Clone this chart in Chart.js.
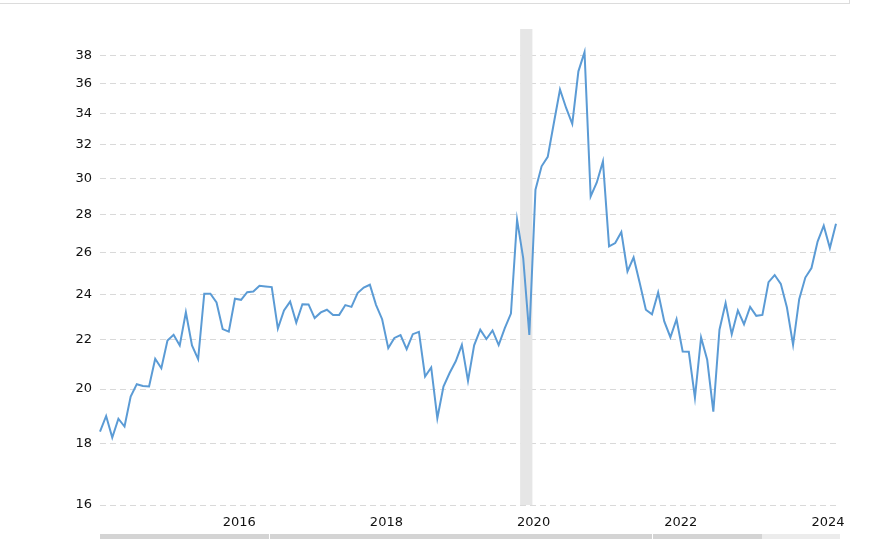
<!DOCTYPE html>
<html>
<head>
<meta charset="utf-8">
<script src="https://cdn.jsdelivr.net/npm/chart.js@4.4.1/dist/chart.umd.min.js"></script>
<style>
  html, body { margin: 0; padding: 0; background: #fff; }
  #wrap { position: relative; width: 895px; height: 539px; overflow: hidden; }
  #frame { position: absolute; left: -2px; top: -12px; width: 850px; height: 14px; border: 1px solid #dcdcdc; }
  #bar1 { position: absolute; left: 100px; top: 534px; width: 662px; height: 5px; background: #d4d4d4; }
  #bar2 { position: absolute; left: 762px; top: 534px; width: 78px; height: 5px; background: #ececec; }
  .sep { position: absolute; top: 534px; width: 1px; height: 5px; background: #fff; }
  #c { position: absolute; left: 0; top: 0; }
</style>
</head>
<body>
<div id="wrap">
  <div id="frame"></div>
  <div id="bar1"></div>
  <div id="bar2"></div>
  <div class="sep" style="left:269px"></div>
  <div class="sep" style="left:652px"></div>
  <canvas id="c" width="895" height="539"></canvas>
</div>
<script>
// Monthly dates (YYYY-MM)
const months = [
  '2014-05','2014-06','2014-07','2014-08','2014-09','2014-10','2014-11','2014-12',
  '2015-01','2015-02','2015-03','2015-04','2015-05','2015-06','2015-07','2015-08','2015-09','2015-10','2015-11','2015-12',
  '2016-01','2016-02','2016-03','2016-04','2016-05','2016-06','2016-07','2016-08','2016-09','2016-10','2016-11','2016-12',
  '2017-01','2017-02','2017-03','2017-04','2017-05','2017-06','2017-07','2017-08','2017-09','2017-10','2017-11','2017-12',
  '2018-01','2018-02','2018-03','2018-04','2018-05','2018-06','2018-07','2018-08','2018-09','2018-10','2018-11','2018-12',
  '2019-01','2019-02','2019-03','2019-04','2019-05','2019-06','2019-07','2019-08','2019-09','2019-10','2019-11','2019-12',
  '2020-01','2020-02','2020-03','2020-04','2020-05','2020-06','2020-07','2020-08','2020-09','2020-10','2020-11','2020-12',
  '2021-01','2021-02','2021-03','2021-04','2021-05','2021-06','2021-07','2021-08','2021-09','2021-10','2021-11','2021-12',
  '2022-01','2022-02','2022-03','2022-04','2022-05','2022-06','2022-07','2022-08','2022-09','2022-10','2022-11','2022-12',
  '2023-01','2023-02','2023-03','2023-04','2023-05','2023-06','2023-07','2023-08','2023-09','2023-10','2023-11','2023-12',
  '2024-01','2024-02','2024-03','2024-04','2024-05'
];

// Series values
const peRatio = [
  18.43,18.99,18.22,18.89,18.61,19.71,20.19,20.12,
  20.10,21.20,20.82,21.96,22.20,21.75,23.19,21.75,21.19,24.03,24.03,23.63,
  22.45,22.34,23.80,23.75,24.10,24.13,24.40,24.37,24.34,22.47,23.27,23.67,
  22.73,23.55,23.54,22.93,23.18,23.30,23.07,23.07,23.51,23.43,24.06,24.32,
  24.45,23.52,22.88,21.64,22.07,22.19,21.60,22.23,22.33,20.49,20.85,18.91,
  20.10,20.63,21.10,21.78,20.32,21.76,22.42,22.02,22.39,21.77,22.49,23.13,
  27.71,25.74,22.20,29.36,30.71,31.27,33.38,35.60,34.36,33.32,36.87,38.25,
  28.98,29.77,31.00,26.32,26.49,27.06,25.08,25.77,24.53,23.30,23.10,24.09,
  22.78,22.10,22.88,21.50,21.49,19.67,22.09,21.16,19.15,22.42,23.60,22.23,
  23.27,22.66,23.43,23.03,23.07,24.57,24.91,24.49,23.40,21.78,23.78,24.79,
  25.25,26.57,27.39,26.24,27.50
];

// Tick labels
const yTicks = [16,18,20,22,24,26,28,30,32,34,36,38];
const xTickYears = ['2016','2018','2020','2022','2024'];

// Recession period (shaded)
const recession = ['2020-02','2020-04'];

const recessionPlugin = {
  id: 'recession',
  beforeDatasetsDraw(chart) {
    const {ctx, scales} = chart;
    const x = scales.x, y = scales.y;
    const p1 = x.getPixelForValue(months.indexOf(recession[0]) - 0.5);
    const p2 = x.getPixelForValue(months.indexOf(recession[1]) - 0.5);
    const top = y.top, bottom = y.bottom;
    ctx.save();
    ctx.beginPath();
    ctx.rect(x.left, top, x.right - x.left, bottom - top);
    ctx.clip();
    ctx.fillStyle = '#e6e6e6';
    ctx.fillRect(p1, top, p2 - p1, bottom - top);
    ctx.restore();
  }
};

new Chart(document.getElementById('c'), {
  type: 'line',
  data: {
    labels: months,
    datasets: [{
      data: peRatio,
      borderColor: '#5b9bd5',
      borderWidth: 2,
      pointRadius: 0,
      tension: 0,
      fill: false
    }]
  },
  options: {
    responsive: false,
    animation: false,
    devicePixelRatio: 1,
    layout: { padding: { top: 29, right: 59, left: 0, bottom: 0 } },
    plugins: { legend: { display: false }, tooltip: { enabled: false } },
    scales: {
      x: {
        type: 'category',
        offset: false,
        grid: { display: false, drawTicks: false },
        border: { display: false },
        afterFit(scale) { scale.height = 34; },
        ticks: {
          autoSkip: false,
          maxRotation: 0,
          minRotation: 0,
          align: 'start',
          padding: 10,
          color: '#111',
          font: { family: 'DejaVu Sans', size: 13 },
          callback(value, index) {
            const m = months[index];
            const yr = m.slice(0, 4);
            return (m.slice(5) === '01' && xTickYears.includes(yr)) ? yr : null;
          }
        }
      },
      y: {
        type: 'logarithmic',
        min: 16,
        max: 40,
        afterFit(scale) { scale.width = 100; },
        afterBuildTicks(scale) { scale.ticks = yTicks.map(v => ({ value: v })); },
        grid: { color: '#d9d9d9', lineWidth: 1, drawTicks: false },
        border: { display: false, dash: [6, 4] },
        ticks: {
          padding: 8,
          color: '#111',
          font: { family: 'DejaVu Sans', size: 13 },
          callback(v) { return String(v); }
        }
      }
    }
  },
  plugins: [recessionPlugin]
});
</script>
</body>
</html>
